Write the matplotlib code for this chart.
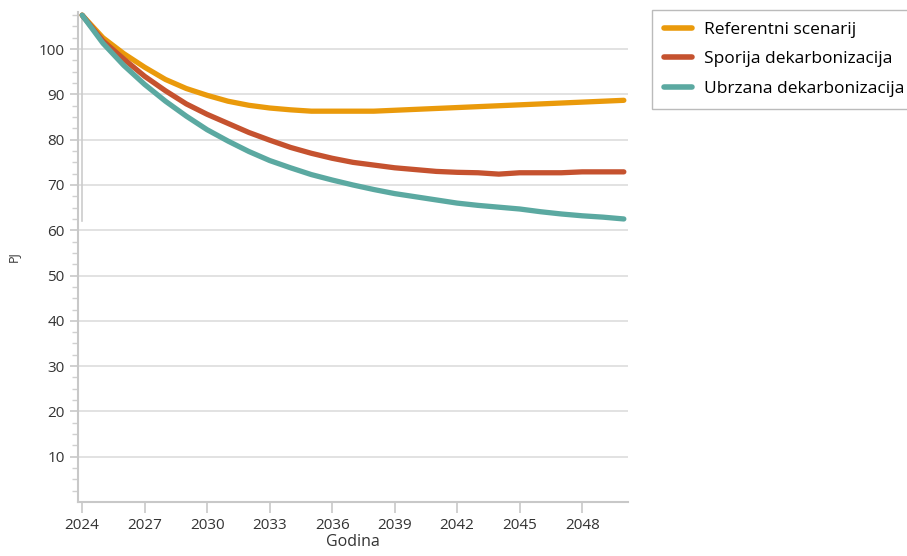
import matplotlib.pyplot as plt
import numpy as np

plt.rcParams["font.family"] = ["Open Sans", "DejaVu Sans"]

years = list(range(2024, 2051))
referentni = [107.5, 102.5, 99.0, 96.0, 93.3, 91.3, 89.8, 88.5, 87.6, 87.0, 86.6, 86.3, 86.3,
              86.3, 86.3, 86.5, 86.7, 86.9, 87.1, 87.3, 87.5, 87.7, 87.9, 88.1, 88.3, 88.5, 88.7]
sporija = [107.5, 101.8, 97.8, 94.0, 90.8, 87.9, 85.6, 83.6, 81.6, 79.9, 78.3, 77.0, 75.9,
           75.0, 74.4, 73.8, 73.4, 73.0, 72.8, 72.7, 72.4, 72.7, 72.7, 72.7, 72.9, 72.9, 72.9]
ubrzana = [107.5, 101.3, 96.4, 92.2, 88.5, 85.2, 82.2, 79.7, 77.4, 75.4, 73.8, 72.3, 71.1,
           70.0, 69.0, 68.1, 67.4, 66.7, 66.0, 65.5, 65.1, 64.7, 64.1, 63.6, 63.2, 62.9, 62.5]

series = [
    ("Referentni scenarij", referentni, "#EA9A0B"),
    ("Sporija dekarbonizacija", sporija, "#C5522F"),
    ("Ubrzana dekarbonizacija", ubrzana, "#5BA9A1"),
]

fig = plt.figure(figsize=(9.07, 5.56), dpi=100)
ax = fig.add_axes([78 / 907, 1 - 502 / 556, 550 / 907, 490 / 556])

for label, vals, color in series:
    ax.plot(years, vals, color=color, lw=3.8, solid_capstyle="round", label=label, zorder=3)

# faint vertical line at the start year
ax.plot([2024, 2024], [62, 107.5], color="#cccccc", lw=1.2, zorder=2)

ax.set_xlim(2023.8, 2050.2)
ax.set_ylim(0, 108.2)
ax.set_xticks(range(2024, 2050, 3))
ax.set_yticks(range(10, 101, 10))
ax.set_yticks(np.arange(2.5, 108, 2.5), minor=True)
ax.grid(axis="y", color="#dddddd", lw=1.2)
ax.set_axisbelow(True)

for s in ["top", "right"]:
    ax.spines[s].set_visible(False)
for s in ["left", "bottom"]:
    ax.spines[s].set_color("#c8c8c8")
    ax.spines[s].set_linewidth(1.5)

ax.tick_params(axis="both", which="major", colors="#c8c8c8", labelcolor="#333333",
               labelsize=11, length=6, width=1.2)
ax.tick_params(axis="y", which="minor", colors="#d0d0d0", length=4, width=1)
ax.tick_params(axis="x", which="major", length=8)

ax.set_xlabel("Godina", fontsize=11.5, color="#333333", labelpad=1)
ax.set_ylabel("PJ", fontsize=9, color="#333333", labelpad=14)

leg = fig.legend(loc="upper left", bbox_to_anchor=(652 / 907, 1 - 10 / 556), fontsize=12.5,
                 frameon=True, fancybox=False, edgecolor="#aaaaaa", handlelength=1.6,
                 borderpad=0.7, labelspacing=0.75, handletextpad=0.7, borderaxespad=0)
leg.get_frame().set_linewidth(1.0)
for line in leg.get_lines():
    line.set_linewidth(4)

fig.savefig("out.png", dpi=100)
